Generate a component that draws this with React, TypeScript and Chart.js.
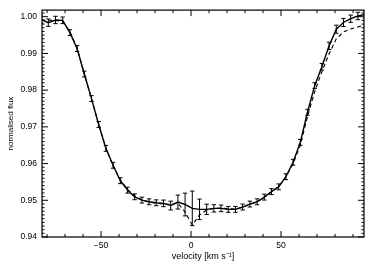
import React, { useEffect, useRef } from "react";
import { Chart, registerables } from "chart.js";

Chart.register(...registerables);

// ---- data ----
const velocities = [
  -83.3, -79.3, -75.3, -71.3, -67.3, -63.3, -59.3, -55.3, -51.3, -47.3,
  -43.3, -39.3, -35.3, -31.3, -27.3, -23.3, -19.3, -15.3, -11.3, -7.3,
  -3.3, 0.7, 4.7, 8.7, 12.7, 16.7, 20.7, 24.7, 28.7, 32.7,
  36.7, 40.7, 44.7, 48.7, 52.7, 56.7, 60.7, 64.7, 68.7, 72.7,
  76.7, 80.7, 84.7, 88.7, 92.7, 96.7,
];

const observedFlux = [
  0.99919, 0.99837, 0.99911, 0.99902, 0.99566, 0.99133, 0.98439, 0.9777, 0.97065, 0.96415,
  0.95954, 0.95534, 0.95276, 0.95095, 0.95005, 0.94959, 0.94932, 0.94916, 0.94856, 0.94951,
  0.94885, 0.9478, 0.94753, 0.94753, 0.9478, 0.9478, 0.94753, 0.94753, 0.94816, 0.94897,
  0.94959, 0.95087, 0.95236, 0.95366, 0.95642, 0.96035, 0.96577, 0.97398, 0.98122, 0.98637,
  0.99206, 0.99659, 0.99843, 0.99946, 1.00019, 1.0006,
];

const observedError = [
  0.001, 0.001, 0.001, 0.0009, 0.0008, 0.0008, 0.0008, 0.0008, 0.0008, 0.0008,
  0.0008, 0.0008, 0.0008, 0.0008, 0.0008, 0.0008, 0.0008, 0.0009, 0.0012, 0.0019,
  0.0031, 0.0047, 0.0028, 0.0014, 0.001, 0.0009, 0.0008, 0.0008, 0.0008, 0.0008,
  0.0008, 0.0008, 0.0008, 0.0008, 0.0008, 0.0008, 0.0008, 0.0008, 0.0008, 0.0009,
  0.001, 0.0011, 0.0011, 0.001, 0.001, 0.001,
];

const modelFlux = [
  0.9991, 0.99905, 0.999, 0.9987, 0.9959, 0.9914, 0.9845, 0.9777, 0.9706, 0.9642,
  0.9593, 0.9556, 0.953, 0.9512, 0.9501, 0.9495, 0.9492, 0.949, 0.9489, 0.94924,
  0.9468, 0.94328, 0.94599, 0.94734, 0.9478, 0.9479, 0.9477, 0.9476, 0.9481, 0.9489,
  0.9496, 0.9508, 0.9523, 0.9537, 0.9564, 0.96, 0.96496, 0.97282, 0.97959, 0.98501,
  0.98989, 0.99396, 0.99585, 0.99667, 0.9972, 0.99775,
];

const xTickValues = [-50, 0, 50];
const xMinorStep = 10;
const yTickValues = [0.94, 0.95, 0.96, 0.97, 0.98, 0.99, 1.0];
const yMinorStep = 0.001;

const X_MIN = -82.8;
const X_MAX = 96.1;
const Y_MIN = 0.94;
const Y_MAX = 1.0018;

const FONT = "'Liberation Sans', Arial, Helvetica, sans-serif";

const errorBarPlugin = {
  id: "errorBars",
  afterDatasetsDraw(chart: any) {
    const { ctx, chartArea } = chart;
    const xs = chart.scales.x;
    const ys = chart.scales.y;
    ctx.save();
    ctx.beginPath();
    ctx.rect(chartArea.left, chartArea.top, chartArea.right - chartArea.left, chartArea.bottom - chartArea.top);
    ctx.clip();
    ctx.strokeStyle = "#000";
    ctx.lineWidth = 1;
    const cap = 2.2;
    for (let i = 0; i < velocities.length; i++) {
      const px = xs.getPixelForValue(velocities[i]);
      const yTop = ys.getPixelForValue(observedFlux[i] + observedError[i]);
      const yBot = ys.getPixelForValue(observedFlux[i] - observedError[i]);
      ctx.beginPath();
      ctx.moveTo(px, yTop);
      ctx.lineTo(px, yBot);
      ctx.moveTo(px - cap, yTop);
      ctx.lineTo(px + cap, yTop);
      ctx.moveTo(px - cap, yBot);
      ctx.lineTo(px + cap, yBot);
      ctx.stroke();
    }
    ctx.restore();
  },
};

const framePlugin = {
  id: "frameTicks",
  afterDraw(chart: any) {
    const { ctx, chartArea } = chart;
    const { left, right, top, bottom } = chartArea;
    const xs = chart.scales.x;
    const ys = chart.scales.y;
    ctx.save();
    ctx.strokeStyle = "#000";
    ctx.lineWidth = 1.2;
    ctx.strokeRect(left, top, right - left, bottom - top);
    ctx.lineWidth = 1;
    ctx.beginPath();
    const xStart = Math.ceil(X_MIN / xMinorStep) * xMinorStep;
    for (let v = xStart; v <= X_MAX + 1e-9; v += xMinorStep) {
      const major = xTickValues.some((t) => Math.abs(t - v) < 1e-6);
      const len = major ? 6 : 3;
      const px = xs.getPixelForValue(v);
      ctx.moveTo(px, bottom);
      ctx.lineTo(px, bottom - len);
      ctx.moveTo(px, top);
      ctx.lineTo(px, top + len);
    }
    const nMinor = Math.round((Y_MAX - Y_MIN) / yMinorStep);
    for (let j = 0; j <= nMinor; j++) {
      const v = Y_MIN + j * yMinorStep;
      if (v > Y_MAX + 1e-9) break;
      const major = yTickValues.some((t) => Math.abs(t - v) < 1e-7);
      const len = major ? 6 : 2.5;
      const py = ys.getPixelForValue(v);
      ctx.moveTo(left, py);
      ctx.lineTo(left + len, py);
      ctx.moveTo(right, py);
      ctx.lineTo(right - len, py);
    }
    ctx.stroke();
    ctx.restore();
  },
};

export default function App() {
  const canvasRef = useRef<HTMLCanvasElement | null>(null);

  useEffect(() => {
    document.body.style.margin = "0";
    const canvas = canvasRef.current;
    if (!canvas) return;
    const observed = velocities.map((v, i) => ({ x: v, y: observedFlux[i] }));
    const model = velocities.map((v, i) => ({ x: v, y: modelFlux[i] }));
    const chart = new Chart(canvas, {
      type: "line",
      data: {
        datasets: [
          {
            label: "observed",
            data: observed,
            borderColor: "#000",
            borderWidth: 1.4,
            pointRadius: 0,
            fill: false,
            tension: 0,
          },
          {
            label: "model",
            data: model,
            borderColor: "#000",
            borderWidth: 1.1,
            borderDash: [4, 3],
            pointRadius: 0,
            fill: false,
            tension: 0,
          },
        ],
      },
      options: {
        animation: false,
        responsive: false,
        maintainAspectRatio: false,
        layout: { padding: { left: 0, right: 10, top: 9, bottom: 0 } },
        plugins: { legend: { display: false }, tooltip: { enabled: false } },
        scales: {
          x: {
            type: "linear",
            min: X_MIN,
            max: X_MAX,
            grid: { display: false, drawTicks: false },
            border: { display: false },
            afterBuildTicks: (s: any) => {
              s.ticks = xTickValues.map((value) => ({ value }));
            },
            afterFit: (s: any) => {
              s.height = 31;
            },
            ticks: {
              color: "#000",
              padding: 4,
              maxRotation: 0,
              font: { family: FONT, size: 8.5 },
              callback: (v: any) => (Number(v) < 0 ? "\u2212" + Math.abs(Number(v)) : String(v)),
            },
            title: {
              display: true,
              text: "velocity [km s\u207B\u00B9]",
              color: "#000",
              font: { family: FONT, size: 9 },
              padding: { top: 0, bottom: 6 },
            },
          },
          y: {
            type: "linear",
            min: Y_MIN,
            max: Y_MAX,
            grid: { display: false, drawTicks: false },
            border: { display: false },
            afterBuildTicks: (s: any) => {
              s.ticks = yTickValues.map((value) => ({ value }));
            },
            afterFit: (s: any) => {
              s.width = 42;
            },
            ticks: {
              color: "#000",
              padding: 5,
              font: { family: FONT, size: 8.5 },
              callback: (v: any) => Number(v).toFixed(2),
            },
            title: {
              display: true,
              text: "normalised flux",
              color: "#000",
              font: { family: FONT, size: 8 },
              padding: { top: 6, bottom: 0 },
            },
          },
        },
      },
      plugins: [errorBarPlugin, framePlugin],
    });
    return () => chart.destroy();
  }, []);

  return (
    <div style={{ width: 374, height: 268, background: "#fff" }}>
      <canvas ref={canvasRef} width={374} height={268} style={{ display: "block" }} />
    </div>
  );
}
